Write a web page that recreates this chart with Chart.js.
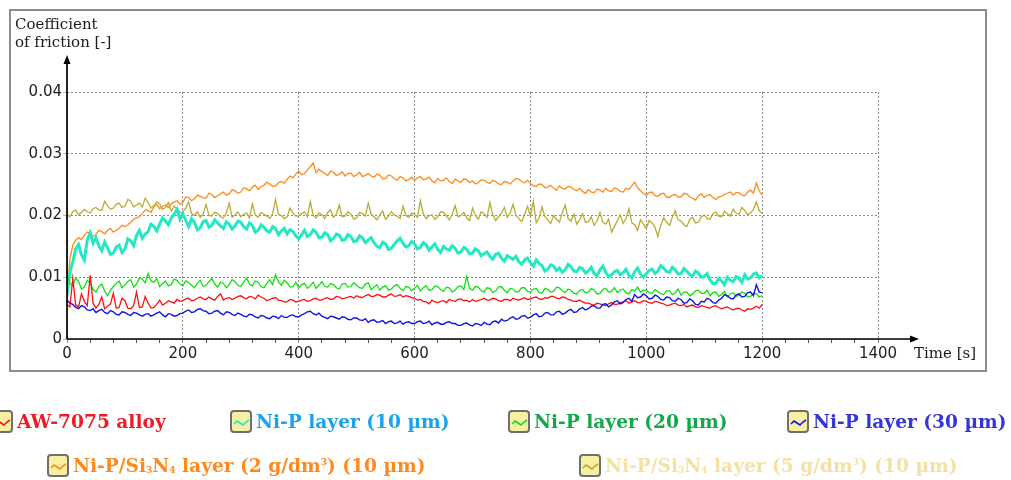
<!DOCTYPE html>
<html>
<head>
<meta charset="utf-8">
<script src="https://cdn.jsdelivr.net/npm/chart.js@4"></script>
<style>
  html, body { margin: 0; padding: 0; background: #fff; }
  #wrap { position: relative; width: 1011px; height: 480px; overflow: hidden; }
  #frame {
    position: absolute; left: 9px; top: 9px; width: 974px; height: 359px;
    border: 2px solid #8c8c8c;
  }
  #chart { position: absolute; left: 0; top: 0; }
  .legend-item {
    position: absolute; display: flex; align-items: center;
    font: bold 18.6px "DejaVu Serif", serif; white-space: nowrap;
  }
  .legend-item svg { margin-right: 4px; flex: none; }
  .legend-item sub, .legend-item sup { font-size: 9px; line-height: 0; }
  .legend-item sub { vertical-align: -1px; }
  .legend-item sup { vertical-align: 7px; }
</style>
</head>
<body>
<div id="wrap">
  <div id="frame"></div>
  <canvas id="chart" width="1011" height="480"></canvas>
  <div id="legend"></div>
</div>
<script>
// Sampling interval of the recorded curves [s]
const SAMPLE_STEP = 5;

// Axis ticks
const xTicks = [0, 200, 400, 600, 800, 1000, 1200, 1400];
const yTicks = [0, 0.01, 0.02, 0.03, 0.04];

// Coefficient of friction in units of 10^-3, one value every 5 s from 0 to 1200 s (20 per row = 100 s)
const alloyValues = [
  5.6, 5.2, 9.8, 5.5, 5.2, 7.3, 6.1, 5.4, 10.3, 5.8, 5.0, 5.6, 6.8, 4.9, 5.3, 5.7, 7.4, 5.0, 5.1, 6.6,
  6.2, 5.0, 4.9, 5.4, 7.6, 5.1, 5.2, 6.9, 5.8, 5.0, 5.1, 5.6, 6.3, 5.5, 5.8, 6.2, 6.0, 5.8, 6.4, 6.1,
  6.2, 6.5, 6.6, 6.2, 6.3, 6.6, 6.8, 6.5, 6.4, 6.8, 6.5, 6.3, 6.9, 7.3, 6.3, 6.6, 6.7, 6.4, 6.6, 6.9,
  7.0, 6.7, 6.5, 6.9, 6.8, 6.5, 7.1, 6.8, 6.6, 6.2, 6.4, 6.6, 6.7, 6.3, 6.2, 6.0, 6.0, 6.4, 6.3, 6.0,
  6.1, 6.3, 6.4, 6.1, 6.2, 6.5, 6.6, 6.3, 6.3, 6.6, 6.7, 6.4, 6.5, 6.9, 6.8, 6.5, 6.6, 6.8, 6.9, 6.6,
  7.0, 6.8, 6.7, 7.0, 7.2, 6.9, 6.9, 7.2, 7.1, 6.8, 6.8, 7.1, 7.3, 6.9, 7.0, 7.2, 6.8, 7.0, 6.9, 6.7,
  6.6, 6.3, 6.4, 6.1, 6.0, 5.7, 6.3, 6.0, 5.9, 6.1, 6.2, 5.9, 6.4, 6.2, 6.1, 6.4, 6.5, 6.2, 6.3, 6.0,
  6.4, 6.1, 6.2, 6.4, 6.6, 6.3, 6.3, 6.6, 6.5, 6.2, 6.1, 6.4, 6.4, 6.2, 6.6, 6.4, 6.3, 6.5, 6.7, 6.4,
  6.5, 6.7, 6.8, 6.5, 6.4, 6.7, 6.6, 6.9, 6.9, 6.6, 6.5, 6.8, 6.7, 6.4, 6.3, 6.1, 6.1, 6.3, 6.0, 5.8,
  5.8, 5.6, 5.5, 5.8, 5.7, 5.5, 5.4, 5.7, 5.9, 5.6, 5.6, 5.9, 6.0, 6.2, 5.8, 6.0, 6.2, 5.9, 5.9, 6.2,
  6.1, 5.9, 5.8, 6.1, 6.0, 5.8, 5.7, 5.4, 5.5, 5.7, 5.8, 5.5, 5.4, 5.6, 5.2, 5.4, 5.5, 5.2, 5.1, 5.4,
  5.3, 5.1, 5.0, 5.3, 5.4, 5.1, 4.9, 5.1, 5.2, 4.9, 4.7, 4.9, 5.0, 4.7, 4.5, 4.9, 4.8, 5.0, 5.3, 5.0,
  5.6
];
const nip10Values = [
  7.0, 10.8, 12.5, 14.6, 15.3, 13.6, 12.8, 16.1, 17.2, 15.5, 16.4, 15.1, 14.3, 15.7, 14.8, 13.7, 13.9, 14.9, 15.2, 14.0,
  14.6, 16.2, 15.9, 15.1, 16.8, 17.6, 16.3, 17.0, 17.4, 18.6, 18.2, 17.5, 18.6, 19.6, 19.1, 18.5, 19.6, 20.2, 21.0, 19.4,
  20.3, 19.2, 18.2, 19.5, 18.9, 17.7, 18.0, 19.0, 19.2, 18.1, 18.4, 19.3, 18.8, 18.3, 17.9, 19.0, 18.6, 17.8, 18.3, 19.1,
  18.9, 18.2, 17.8, 18.8, 18.4, 17.3, 17.6, 18.5, 18.1, 17.5, 17.3, 18.2, 17.9, 16.9, 17.5, 17.9, 17.0, 17.7, 17.4, 16.7,
  16.2, 16.9, 17.6, 16.6, 16.9, 17.7, 17.3, 16.4, 16.5, 17.2, 16.9, 15.9, 16.3, 17.0, 16.8, 16.0, 16.1, 16.9, 16.6, 15.8,
  15.9, 16.7, 16.4, 15.6, 16.0, 16.4, 15.6, 15.0, 14.8, 15.7, 15.4, 14.5, 14.7, 15.3, 15.9, 16.3, 15.5, 14.9, 15.1, 15.8,
  15.4, 14.6, 14.8, 15.6, 15.3, 14.4, 14.9, 15.4, 14.5, 14.0, 15.0, 14.6, 14.4, 15.1, 14.7, 13.9, 14.1, 14.8, 14.5, 13.8,
  13.9, 14.6, 14.3, 13.5, 13.8, 14.1, 13.4, 12.9, 13.7, 13.9, 13.1, 12.6, 13.5, 13.2, 12.9, 13.4, 12.5, 12.1, 12.8, 13.1,
  12.4, 11.8, 12.8, 12.2, 11.9, 11.0, 11.3, 12.0, 11.8, 11.1, 11.5, 10.8, 11.2, 12.1, 11.7, 11.0, 10.9, 11.6, 11.4, 10.7,
  11.0, 11.6, 10.6, 10.2, 11.2, 11.8, 10.8, 10.1, 10.4, 10.9, 11.1, 10.4, 10.7, 11.3, 10.3, 9.9, 10.9, 11.5, 10.5, 10.0,
  10.6, 11.1, 11.3, 10.6, 11.0, 11.9, 11.5, 10.9, 10.8, 11.6, 11.2, 10.5, 10.6, 11.4, 11.0, 10.4, 10.2, 11.0, 10.7, 10.0,
  10.1, 10.6, 9.6, 9.0, 9.0, 9.8, 9.4, 8.8, 10.0, 9.5, 9.3, 10.1, 9.8, 9.2, 10.4, 9.7, 9.9, 10.5, 10.7, 9.9,
  10.3
];
const nip20Values = [
  10.4, 9.0, 8.6, 9.9, 9.3, 8.1, 8.4, 9.5, 9.1, 8.0, 7.6, 8.5, 8.9, 7.8, 7.0, 7.9, 8.5, 9.0, 9.4, 8.3,
  8.8, 9.3, 9.6, 8.4, 8.9, 9.9, 9.7, 9.1, 10.6, 9.4, 9.2, 9.8, 8.5, 9.0, 9.4, 8.6, 8.8, 9.7, 9.5, 8.9,
  8.6, 9.4, 9.1, 8.7, 8.3, 9.0, 9.5, 8.5, 8.7, 9.3, 9.8, 8.9, 8.4, 9.2, 9.0, 8.3, 8.8, 9.6, 9.3, 8.7,
  8.5, 9.2, 9.9, 8.9, 8.6, 9.4, 9.2, 8.5, 8.3, 9.0, 9.6, 8.8, 10.4, 9.3, 8.7, 9.5, 9.1, 8.4, 8.5, 9.2,
  8.3, 8.8, 9.0, 8.2, 8.6, 9.2, 8.2, 8.7, 9.3, 8.5, 8.4, 9.0, 8.8, 8.3, 8.1, 8.9, 9.0, 8.4, 8.5, 9.1,
  8.7, 8.3, 8.2, 8.9, 9.1, 8.0, 8.4, 8.8, 7.9, 8.4, 8.6, 7.9, 8.1, 8.6, 8.8, 8.2, 7.8, 8.5, 8.4, 7.8,
  8.2, 8.7, 7.8, 8.3, 8.6, 7.9, 8.0, 8.6, 8.5, 8.0, 7.7, 8.4, 8.3, 7.6, 7.9, 8.5, 8.6, 8.0, 10.1, 8.2,
  7.9, 8.5, 8.4, 7.8, 7.6, 8.3, 8.2, 7.5, 7.8, 8.4, 8.5, 7.9, 7.5, 8.2, 8.1, 7.6, 7.7, 8.3, 8.3, 7.7,
  7.6, 8.1, 8.2, 7.5, 7.4, 8.2, 8.0, 7.6, 7.7, 8.4, 8.3, 7.8, 7.5, 8.1, 7.9, 7.4, 7.3, 7.9, 8.0, 7.5,
  7.6, 8.2, 7.9, 7.3, 7.4, 8.0, 8.2, 7.6, 7.7, 8.3, 7.5, 7.9, 8.1, 7.5, 7.3, 8.0, 7.8, 8.4, 7.6, 7.9,
  7.9, 7.5, 7.4, 8.0, 7.7, 7.3, 7.2, 7.8, 7.8, 7.2, 7.5, 8.1, 7.1, 7.6, 7.6, 7.0, 7.3, 7.8, 7.9, 7.4,
  7.4, 7.9, 7.0, 7.5, 7.6, 6.9, 7.2, 7.7, 6.8, 7.3, 7.5, 6.9, 7.1, 7.6, 7.4, 6.8, 6.9, 7.4, 7.3, 6.8,
  7.0
];
const nip30Values = [
  6.3, 5.8, 5.6, 5.1, 4.9, 5.4, 5.2, 4.7, 4.6, 4.9, 4.3, 4.6, 4.8, 4.3, 4.1, 4.6, 4.4, 4.0, 3.9, 4.4,
  4.3, 4.0, 3.8, 4.3, 4.2, 3.9, 3.7, 4.0, 4.1, 3.7, 3.9, 4.2, 4.4, 3.9, 3.6, 4.1, 4.0, 3.7, 3.8, 4.1,
  4.2, 4.5, 4.7, 4.3, 4.4, 4.8, 4.9, 4.6, 4.5, 4.1, 4.2, 4.5, 4.6, 4.2, 3.9, 4.4, 4.3, 4.0, 3.8, 4.2,
  4.0, 3.7, 3.6, 4.0, 3.9, 3.6, 3.4, 3.8, 3.7, 3.4, 3.3, 3.7, 3.6, 3.3, 3.8, 3.5, 3.5, 3.8, 3.9, 3.6,
  3.6, 3.9, 4.1, 4.4, 4.5, 4.1, 3.9, 4.2, 3.7, 3.5, 3.3, 3.7, 3.6, 3.4, 3.2, 3.6, 3.5, 3.2, 3.1, 3.4,
  3.4, 3.1, 3.0, 3.3, 2.7, 3.0, 3.1, 2.7, 2.8, 3.0, 2.5, 2.8, 2.9, 2.5, 2.6, 2.9, 2.4, 2.7, 2.8, 2.5,
  2.5, 2.8, 2.9, 2.5, 2.6, 2.9, 2.3, 2.6, 2.7, 2.4, 2.4, 2.7, 2.8, 2.5, 2.5, 2.2, 2.2, 2.5, 2.6, 2.3,
  2.1, 2.5, 2.4, 2.2, 2.7, 2.4, 2.3, 2.8, 2.9, 2.6, 3.2, 2.9, 3.0, 3.4, 3.6, 3.2, 3.3, 3.7, 3.8, 3.4,
  3.5, 3.9, 4.1, 3.6, 3.7, 4.2, 4.3, 3.9, 3.9, 4.4, 4.5, 4.0, 4.2, 4.6, 4.8, 4.3, 4.4, 4.9, 5.1, 4.7,
  4.9, 5.3, 5.4, 5.0, 5.0, 5.6, 5.7, 5.2, 5.5, 6.0, 6.2, 5.7, 5.9, 6.4, 6.6, 6.1, 7.2, 6.7, 6.8, 7.3,
  7.0, 6.5, 6.6, 7.1, 6.9, 6.4, 6.3, 6.8, 6.7, 6.2, 6.1, 6.6, 6.4, 5.8, 5.9, 6.5, 6.2, 5.6, 5.5, 6.1,
  6.0, 6.6, 6.4, 5.9, 5.8, 6.3, 6.6, 7.2, 7.0, 6.6, 6.5, 7.1, 7.3, 6.8, 6.9, 7.5, 7.6, 7.0, 8.8, 7.6,
  7.5
];
const si3n4Low = [
  7.5, 12.8, 15.2, 16.0, 16.4, 16.1, 16.8, 17.3, 17.2, 16.6, 16.9, 17.6, 17.4, 17.0, 17.6, 17.9, 17.3, 17.6, 17.9, 18.4,
  18.2, 18.5, 18.9, 19.4, 19.6, 19.8, 20.3, 20.9, 20.8, 20.5, 21.4, 21.8, 21.1, 21.5, 21.7, 21.3, 21.9, 22.2, 22.4, 21.8,
  22.1, 23.0, 22.9, 22.4, 22.7, 23.3, 23.1, 22.9, 22.8, 23.6, 23.4, 22.9, 23.2, 23.5, 23.8, 23.3, 23.5, 24.2, 24.0, 23.6,
  23.8, 24.5, 24.3, 24.0, 24.6, 24.9, 24.2, 24.7, 24.9, 25.4, 25.1, 24.7, 24.8, 25.3, 25.5, 25.2, 25.9, 26.4, 26.1, 26.7,
  27.2, 26.6, 26.8, 27.4, 27.9, 28.5, 26.9, 27.5, 27.1, 26.8, 26.5, 27.2, 27.0, 26.5, 26.7, 27.1, 26.4, 26.8, 26.9, 26.3,
  26.6, 27.0, 26.3, 26.5, 26.8, 26.4, 26.2, 26.7, 26.5, 25.9, 26.0, 26.6, 26.4, 26.0, 25.7, 26.3, 26.1, 25.6, 25.8, 26.2,
  25.7, 26.1, 26.3, 25.8, 25.9, 26.2, 25.6, 25.3, 26.0, 25.6, 25.7, 26.1, 25.5, 25.2, 25.9, 25.6, 25.4, 25.9, 25.8, 25.3,
  25.6, 25.1, 25.3, 25.8, 25.7, 25.4, 25.2, 25.7, 25.5, 25.1, 25.0, 25.5, 25.4, 25.1, 25.6, 26.0, 25.9, 25.5, 25.3, 25.7,
  25.2, 24.8, 24.7, 25.1, 25.0, 24.5, 24.6, 24.9, 24.4, 24.1, 24.8, 24.4, 24.3, 24.7, 24.6, 24.2, 24.0, 24.4, 23.9, 23.6,
  24.2, 23.8, 23.7, 24.3, 24.1, 23.8, 24.4, 24.0, 23.9, 24.5, 24.3, 23.9, 23.8, 24.4, 24.2, 24.8, 25.4, 24.5, 24.0, 23.6,
  23.3, 23.7, 23.8, 23.2, 23.1, 23.5, 23.6, 23.0, 22.9, 23.3, 23.4, 23.0, 23.0, 23.6, 23.5, 23.0, 22.8, 22.5, 23.2, 23.5,
  22.9, 23.3, 23.4, 22.9, 22.6, 23.0, 23.1, 23.4, 23.6, 23.8, 23.3, 23.7, 23.7, 23.3, 23.2, 23.8, 24.1, 23.6, 25.3, 24.0,
  23.3
];
const si3n4High = [
  20.2, 19.8, 20.6, 20.9, 20.1, 20.5, 21.0, 20.6, 20.4, 21.1, 21.3, 20.9, 20.8, 22.3, 21.6, 21.0, 21.2, 21.8, 22.0, 21.3,
  21.5, 22.6, 22.3, 21.4, 21.7, 22.0, 21.4, 22.8, 22.1, 21.2, 21.6, 22.2, 21.9, 21.0, 21.3, 22.1, 20.7, 21.5, 21.1, 20.5,
  20.6, 21.2, 22.2, 20.3, 20.0, 20.6, 19.7, 20.2, 21.8, 20.0, 19.9, 20.5, 20.3, 19.8, 19.6, 20.4, 22.0, 19.7, 20.1, 20.6,
  19.8, 20.2, 20.4, 19.6, 21.9, 20.1, 19.7, 20.5, 20.2, 19.9, 19.5, 20.3, 22.6, 20.2, 20.0, 19.5, 19.8, 21.2, 20.4, 19.9,
  19.9, 20.3, 20.6, 19.8, 22.3, 20.0, 19.6, 20.4, 20.1, 19.5, 20.5, 20.9, 19.7, 20.2, 21.7, 19.8, 19.9, 20.6, 20.2, 19.4,
  19.6, 20.5, 20.3, 19.9, 22.0, 20.2, 19.8, 19.3, 20.1, 20.7, 19.4, 19.9, 20.6, 20.1, 19.9, 19.5, 21.5, 20.0, 19.7, 20.4,
  20.2, 19.7, 22.4, 20.3, 19.5, 20.0, 20.1, 19.4, 19.8, 20.6, 20.5, 19.9, 19.3, 20.2, 21.6, 19.8, 20.0, 20.5, 19.6, 19.2,
  21.2, 20.0, 19.4, 20.6, 20.3, 19.7, 22.1, 20.1, 19.2, 19.8, 20.4, 21.3, 19.7, 20.4, 21.8, 20.0, 19.5, 19.0, 20.2, 21.5,
  19.9, 22.3, 18.8, 19.6, 21.4, 19.8, 19.3, 18.7, 20.0, 19.4, 18.9, 20.5, 21.7, 19.5, 19.1, 20.2, 18.6, 19.3, 20.3, 18.9,
  19.0, 19.8, 18.4, 19.1, 20.5, 18.9, 18.6, 19.4, 17.3, 18.2, 19.2, 20.1, 18.7, 19.5, 21.1, 18.8, 18.5, 17.6, 19.3, 18.6,
  17.9, 19.2, 18.8, 18.1, 16.6, 18.4, 19.6, 18.9, 18.4, 19.7, 20.8, 19.3, 19.1, 18.5, 18.2, 19.4, 19.7, 18.8, 18.9, 19.8,
  20.1, 19.5, 19.4, 20.3, 20.6, 19.9, 19.8, 20.7, 20.3, 19.9, 21.0, 20.4, 20.2, 21.3, 20.8, 20.1, 20.4, 21.0, 22.2, 20.8,
  20.3
];

const seriesLabels = [
  "AW-7075 alloy",
  "Ni-P layer (10 µm)",
  "Ni-P layer (20 µm)",
  "Ni-P layer (30 µm)",
  "Ni-P/Si₃N₄ layer (2 g/dm³) (10 µm)",
  "Ni-P/Si₃N₄ layer (5 g/dm³) (10 µm)",
];
const seriesValues = [alloyValues, nip10Values, nip20Values, nip30Values, si3n4Low, si3n4High];
const lineColors = ["#ff1010", "#22e8c4", "#10e010", "#1414e6", "#ff8a1c", "#b7ad34"];
const legendColors = ["#ee1b24", "#1aa3ec", "#12a84a", "#3535d8", "#ff8a1c", "#f3e1a6"];
const lineWidths = [1.3, 3.0, 1.3, 1.4, 1.3, 1.3];
// blue on top, then red, green, cyan, orange, olive at the bottom
const drawOrder = [1, 3, 2, 0, 4, 5];

function toPoints(values) {
  return values.map((v, i) => ({ x: i * SAMPLE_STEP, y: v / 1000 }));
}

// Axis lines with arrows and axis titles
const axisDecor = {
  id: "axisDecor",
  afterDraw(chart) {
    const { ctx, chartArea: a } = chart;
    ctx.save();
    ctx.strokeStyle = "#000";
    ctx.lineWidth = 1.7;
    ctx.beginPath();
    ctx.moveTo(a.left, a.bottom);
    ctx.lineTo(a.right + 34, a.bottom);
    ctx.moveTo(a.left, a.bottom);
    ctx.lineTo(a.left, a.top - 30);
    ctx.stroke();

    ctx.fillStyle = "#000";
    ctx.beginPath();
    ctx.moveTo(a.right + 41, a.bottom);
    ctx.lineTo(a.right + 32, a.bottom - 3.5);
    ctx.lineTo(a.right + 32, a.bottom + 3.5);
    ctx.fill();
    ctx.beginPath();
    ctx.moveTo(a.left, a.top - 37);
    ctx.lineTo(a.left - 3.5, a.top - 28);
    ctx.lineTo(a.left + 3.5, a.top - 28);
    ctx.fill();

    ctx.font = '15px "DejaVu Serif"';
    ctx.fillStyle = "#1c1c1c";
    ctx.textBaseline = "alphabetic";
    ctx.fillText("Coefficient", 15, 29);
    ctx.fillText("of friction [-]", 15, 47);
    ctx.fillText("Time [s]", a.right + 36, a.bottom + 19);
    ctx.restore();
  },
};

document.addEventListener("DOMContentLoaded", function () {
  initChart();
  buildLegend();
});

function initChart() {
  const ctx = document.getElementById("chart").getContext("2d");
  new Chart(ctx, {
    type: "line",
    data: {
      datasets: seriesValues.map((values, i) => ({
        label: seriesLabels[i],
        data: toPoints(values),
        borderColor: lineColors[i],
        borderWidth: lineWidths[i],
        pointRadius: 0,
        tension: 0,
        fill: false,
        order: drawOrder[i],
      })),
    },
    options: {
      responsive: false,
      animation: false,
      layout: { padding: { left: 0, top: 92, right: 133, bottom: 0 } },
      plugins: {
        legend: { display: false },
        tooltip: { enabled: false },
      },
      scales: {
        x: {
          type: "linear",
          min: xTicks[0],
          max: xTicks[xTicks.length - 1],
          afterFit: (scale) => { scale.height = 141; },
          afterBuildTicks: (scale) => {
            // major ticks every 200 s, minor marks every 40 s
            const ticks = [];
            for (let v = xTicks[0]; v <= xTicks[xTicks.length - 1]; v += 40) ticks.push({ value: v });
            scale.ticks = ticks;
          },
          border: { display: false, dash: [2, 2] },
          grid: {
            color: (c) => (xTicks.includes(c.tick.value) ? "#8a8a8a" : "transparent"),
            tickColor: (c) => (xTicks.includes(c.tick.value) ? "#8a8a8a" : "#555"),
            tickLength: 4,
          },
          ticks: {
            autoSkip: false,
            maxRotation: 0,
            padding: 2,
            color: "#222",
            font: { family: "DejaVu Sans", size: 15 },
            callback: (v) => (xTicks.includes(v) ? String(v) : ""),
          },
        },
        y: {
          min: yTicks[0],
          max: yTicks[yTicks.length - 1],
          afterFit: (scale) => { scale.width = 67; },
          afterBuildTicks: (scale) => {
            scale.ticks = yTicks.map((v) => ({ value: v }));
          },
          border: { display: false, dash: [2, 2] },
          grid: {
            color: "#8a8a8a",
            tickColor: "#e8a0a0",
            tickLength: 4,
          },
          ticks: {
            padding: 1,
            color: "#222",
            font: { family: "DejaVu Sans", size: 15 },
            callback: (v) => (v === 0 ? "0" : v.toFixed(2)),
          },
        },
      },
    },
    plugins: [axisDecor],
  });
}

function buildLegend() {
  // legend rows laid out as in the original figure
  const html = [
    "AW-7075 alloy",
    "Ni-P layer (10 µm)",
    "Ni-P layer (20 µm)",
    "Ni-P layer (30 µm)",
    "Ni-P/Si<sub>3</sub>N<sub>4</sub> layer (2 g/dm<sup>3</sup>) (10 µm)",
    "Ni-P/Si<sub>3</sub>N<sub>4</sub> layer (5 g/dm<sup>3</sup>) (10 µm)",
  ];
  const spots = [
    [-9, 410], [230, 410], [508, 410], [787, 410],
    [47, 454], [579, 454],
  ];
  const legend = document.getElementById("legend");
  html.forEach((text, i) => {
    const item = document.createElement("div");
    item.className = "legend-item";
    item.style.left = spots[i][0] + "px";
    item.style.top = spots[i][1] + "px";
    item.style.color = legendColors[i];
    item.innerHTML =
      `<svg width="22" height="23" viewBox="0 0 22 23">` +
      `<rect x="1" y="1" width="20" height="21" rx="3" fill="#f6efa4" stroke="#6f6f6f" stroke-width="2"/>` +
      `<polyline points="4,14 7,11 10,13 13,15 16,12 19,10" fill="none" stroke="${lineColors[i]}" stroke-width="1.6"/>` +
      `</svg><span>${text}</span>`;
    legend.appendChild(item);
  });
}
</script>
</body>
</html>
